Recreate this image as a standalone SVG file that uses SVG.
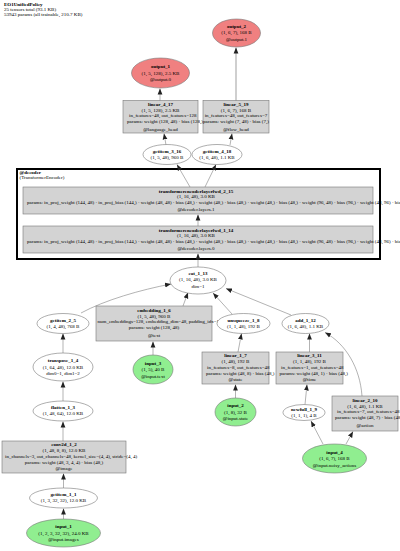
<svg xmlns="http://www.w3.org/2000/svg" width="400" height="551" viewBox="0 0 400 551">
<style>
text{font-family:"Liberation Serif","Times New Roman",serif;font-size:5px;fill:#000;text-anchor:middle}
.b{font-weight:bold}
.l{text-anchor:start}
.box{fill:#d3d3d3;stroke:#777;stroke-width:0.6}
.el{fill:#fff;stroke:#777;stroke-width:0.6}
.in{fill:#90ee90;stroke:#777;stroke-width:0.6}
.out{fill:#f08080;stroke:#777;stroke-width:0.6}
.e{fill:none;stroke:#666;stroke-width:0.5;marker-end:url(#ah)}
.eo{fill:none;stroke:#bbb;stroke-width:1.4;marker-end:url(#ah)}
</style>
<defs>
<marker id="ah" viewBox="0 0 10 10" refX="10" refY="5" markerWidth="6" markerHeight="6" markerUnits="userSpaceOnUse" orient="auto">
<path d="M0,1 L10,5 L0,9 z" fill="#222"/>
</marker>
</defs>
<rect width="400" height="551" fill="#fff"/>
<g id="title">
<text class="l b" x="4" y="6">EO1UnifiedPolicy</text>
<text class="l" x="4" y="10.8">25 tensors total (93.1 KB)</text>
<text class="l" x="4" y="15.6">53943 params (all trainable, 210.7 KB)</text>
</g>
<g id="cluster_decoder">
<rect x="17" y="169" width="363" height="90" fill="none" stroke="#000" stroke-width="2"/>
<text class="l b" x="19.5" y="174">@decoder</text>
<text class="l" x="19.5" y="178.5">(TransformerEncoder)</text>
</g>
<g id="connectors">
<path class="e" d="M63.5,519 L63.5,508.5"/>
<path class="e" d="M63.5,488 L63.5,473.5"/>
<path class="e" d="M63,441 L63,421.5"/>
<path class="e" d="M63,401 L63,381.5"/>
<path class="e" d="M63,353 L63,333.5"/>
<path class="e" d="M81,313 C105,300 140,290 171,284"/>
<path class="e" d="M153,355 L153,341.5"/>
<path class="e" d="M183,306 L188,292.5"/>
<path class="e" d="M235.5,398 L235.5,384.5"/>
<path class="e" d="M238,352 L241.5,333.5"/>
<path class="e" d="M232,314 L213,293"/>
<path class="e" d="M323,444 L311,421"/>
<path class="e" d="M346,444 L353,431.5"/>
<path class="e" d="M305,404.5 L307,384.5"/>
<path class="e" d="M309.5,352 L309.5,333.5"/>
<path class="e" d="M362,396 C360,368 346,344 325,332.5"/>
<path class="e" d="M291,315 L226,288.5"/>
<path class="e" d="M198,267 L198,253.5"/>
<path class="e" d="M198,226 L198,214.5"/>
<path class="e" d="M190,187 L177,164.5"/>
<path class="e" d="M205,187 L216,164.5"/>
<path class="e" d="M166,145 L164,133.5"/>
<path class="e" d="M230,145 L232,133.5"/>
<path class="e" d="M160,101 L160,88.5"/>
<path class="eo" d="M236,101 L236,47.5"/>
</g>
<g id="output_2">
<ellipse class="out" cx="236.5" cy="33" rx="24" ry="14"/>
<text class="b" x="236.5" y="27.5">output_2</text>
<text x="236.5" y="34">(1, 6, 7), 168 B</text>
<text x="236.5" y="40.5">@output.1</text>
</g>
<g id="output_1">
<ellipse class="out" cx="160.5" cy="73" rx="29" ry="15"/>
<text class="b" x="160.5" y="68.3">output_1</text>
<text x="160.5" y="74.8">(1, 5, 128), 2.5 KB</text>
<text x="160.5" y="81.1">@output.0</text>
</g>
<g id="linear_4_17">
<rect class="box" x="123" y="100.5" width="75" height="32.5"/>
<text class="b" x="160.5" y="105.8">linear_4_17</text>
<text x="160.5" y="111.5">(1, 5, 128), 2.5 KB</text>
<text class="l" x="129" y="117.2">in_features=48, out_features=128</text>
<text class="l" x="127" y="123.4">params: weight (128, 48) · bias (128,)</text>
<text x="160.5" y="130.5">@language_head</text>
</g>
<g id="linear_5_19">
<rect class="box" x="203" y="100.5" width="66" height="32.5"/>
<text class="b" x="236" y="105.8">linear_5_19</text>
<text x="236" y="111.5">(1, 6, 7), 168 B</text>
<text x="236" y="117.2">in_features=48, out_features=7</text>
<text x="236" y="123.4">params: weight (7, 48) · bias (7,)</text>
<text x="236" y="130.5">@flow_head</text>
</g>
<g id="getitem_3_16">
<ellipse class="el" cx="167" cy="154.5" rx="24" ry="10"/>
<text class="b" x="167" y="153">getitem_3_16</text>
<text x="167" y="159">(1, 5, 48), 960 B</text>
</g>
<g id="getitem_4_18">
<ellipse class="el" cx="217" cy="154.5" rx="25" ry="10"/>
<text class="b" x="217" y="153">getitem_4_18</text>
<text x="217" y="159">(1, 6, 48), 1.1 KB</text>
</g>
<g id="transformerencoderlayerfwd_2_15">
<rect class="box" x="23" y="187" width="350" height="27"/>
<text class="b" x="196" y="192.6">transformerencoderlayerfwd_2_15</text>
<text x="196" y="198.4">(1, 16, 48), 3.0 KB</text>
<text class="l" x="27" y="204.1">params: in_proj_weight (144, 48) · in_proj_bias (144,) · weight (48, 48) · bias (48,) · weight (48,) · bias (48,) · weight (48,) · bias (48,) · weight (96, 48) · bias (96,) · weight (48, 96) · bias (48,)</text>
<text x="196" y="211.2">@decoder.layers.1</text>
</g>
<g id="transformerencoderlayerfwd_1_14">
<rect class="box" x="23" y="226" width="350" height="27"/>
<text class="b" x="196" y="231.6">transformerencoderlayerfwd_1_14</text>
<text x="196" y="237.4">(1, 16, 48), 3.0 KB</text>
<text class="l" x="27" y="243.1">params: in_proj_weight (144, 48) · in_proj_bias (144,) · weight (48, 48) · bias (48,) · weight (48,) · bias (48,) · weight (48,) · bias (48,) · weight (96, 48) · bias (96,) · weight (48, 96) · bias (48,)</text>
<text x="196" y="250.2">@decoder.layers.0</text>
</g>
<g id="cat_1_13">
<ellipse class="el" cx="198" cy="280.5" rx="28" ry="13.5"/>
<text class="b" x="198" y="275">cat_1_13</text>
<text x="198" y="281.2">(1, 16, 48), 3.0 KB</text>
<text x="198" y="287.6">dim=1</text>
</g>
<g id="getitem_2_5">
<ellipse class="el" cx="63" cy="323.5" rx="26" ry="10"/>
<text class="b" x="63" y="321.6">getitem_2_5</text>
<text x="63" y="327.5">(1, 4, 48), 768 B</text>
</g>
<g id="embedding_1_6">
<rect class="box" x="96" y="306" width="116" height="35"/>
<text class="b" x="154" y="311.8">embedding_1_6</text>
<text x="154" y="317.6">(1, 5, 48), 960 B</text>
<text class="l" x="97.5" y="323.4">num_embeddings=128, embedding_dim=48, padding_idx=1</text>
<text x="154" y="329.2">params: weight (128, 48)</text>
<text x="154" y="336.6">@text</text>
</g>
<g id="unsqueeze_1_8">
<ellipse class="el" cx="243.5" cy="323.5" rx="26.5" ry="10"/>
<text class="b" x="243.5" y="321.6">unsqueeze_1_8</text>
<text x="243.5" y="327.5">(1, 1, 48), 192 B</text>
</g>
<g id="add_1_12">
<ellipse class="el" cx="305.5" cy="323.5" rx="23.5" ry="10"/>
<text class="b" x="305.5" y="321.6">add_1_12</text>
<text x="305.5" y="327.5">(1, 6, 48), 1.1 KB</text>
</g>
<g id="input_3">
<ellipse class="in" cx="153" cy="369.5" rx="20" ry="14.5"/>
<text class="b" x="153" y="364.5">input_3</text>
<text x="153" y="371">(1, 5), 40 B</text>
<text x="153" y="377.5">@input.text</text>
</g>
<g id="transpose_1_4">
<ellipse class="el" cx="63" cy="367" rx="30" ry="14"/>
<text class="b" x="63" y="362">transpose_1_4</text>
<text x="63" y="368.5">(1, 64, 48), 12.0 KB</text>
<text x="63" y="375">dim0=1, dim1=2</text>
</g>
<g id="flatten_1_3">
<ellipse class="el" cx="63" cy="411" rx="30" ry="10"/>
<text class="b" x="63" y="409.2">flatten_1_3</text>
<text x="63" y="415.2">(1, 48, 64), 12.0 KB</text>
</g>
<g id="linear_1_7">
<rect class="box" x="202" y="352" width="67" height="32"/>
<text class="b" x="235.5" y="357.3">linear_1_7</text>
<text x="235.5" y="363">(1, 48), 192 B</text>
<text class="l" x="207" y="368.7">in_features=8, out_features=48</text>
<text class="l" x="206" y="374.6">params: weight (48, 8) · bias (48,)</text>
<text x="235.5" y="381.4">@state</text>
</g>
<g id="linear_3_11">
<rect class="box" x="276" y="352" width="67" height="32"/>
<text class="b" x="309.5" y="357.3">linear_3_11</text>
<text x="309.5" y="363">(1, 1, 48), 192 B</text>
<text class="l" x="281" y="368.7">in_features=1, out_features=48</text>
<text class="l" x="279.5" y="374.6">params: weight (48, 1) · bias (48,)</text>
<text x="309.5" y="381.4">@time</text>
</g>
<g id="input_2">
<ellipse class="in" cx="235.5" cy="412" rx="20.5" ry="14"/>
<text class="b" x="235.5" y="407">input_2</text>
<text x="235.5" y="413.5">(1, 8), 32 B</text>
<text x="235.5" y="420">@input.state</text>
</g>
<g id="newfull_1_9">
<ellipse class="el" cx="304" cy="412.5" rx="21" ry="8"/>
<text class="b" x="304" y="411">newfull_1_9</text>
<text x="304" y="417">(1, 1, 1), 4 B</text>
</g>
<g id="linear_2_10">
<rect class="box" x="332" y="396" width="66" height="35"/>
<text class="b" x="365" y="401.8">linear_2_10</text>
<text x="365" y="407.6">(1, 6, 48), 1.1 KB</text>
<text class="l" x="337" y="413.4">in_features=7, out_features=48</text>
<text class="l" x="335" y="419.2">params: weight (48, 7) · bias (48,)</text>
<text x="365" y="426.6">@action</text>
</g>
<g id="input_4">
<ellipse class="in" cx="334.5" cy="458.5" rx="32" ry="14.5"/>
<text class="b" x="334.5" y="453.5">input_4</text>
<text x="334.5" y="460">(1, 6, 7), 168 B</text>
<text x="334.5" y="466.5">@input.noisy_actions</text>
</g>
<g id="conv2d_1_2">
<rect class="box" x="2" y="441" width="124" height="32"/>
<text class="b" x="64" y="446.3">conv2d_1_2</text>
<text x="64" y="452">(1, 48, 8, 8), 12.0 KB</text>
<text class="l" x="5" y="457.7">in_channels=3, out_channels=48, kernel_size=(4, 4), stride=(4, 4)</text>
<text x="64" y="463.6">params: weight (48, 3, 4, 4) · bias (48,)</text>
<text x="64" y="470.4">@image</text>
</g>
<g id="getitem_1_1">
<ellipse class="el" cx="63.5" cy="498" rx="34" ry="10"/>
<text class="b" x="63.5" y="496.2">getitem_1_1</text>
<text x="63.5" y="502.2">(1, 3, 32, 32), 12.0 KB</text>
</g>
<g id="input_1">
<ellipse class="in" cx="63.5" cy="533" rx="37" ry="14"/>
<text class="b" x="63.5" y="528.4">input_1</text>
<text x="63.5" y="534.9">(1, 2, 3, 32, 32), 24.0 KB</text>
<text x="63.5" y="541.4">@input.images</text>
</g>
</svg>
